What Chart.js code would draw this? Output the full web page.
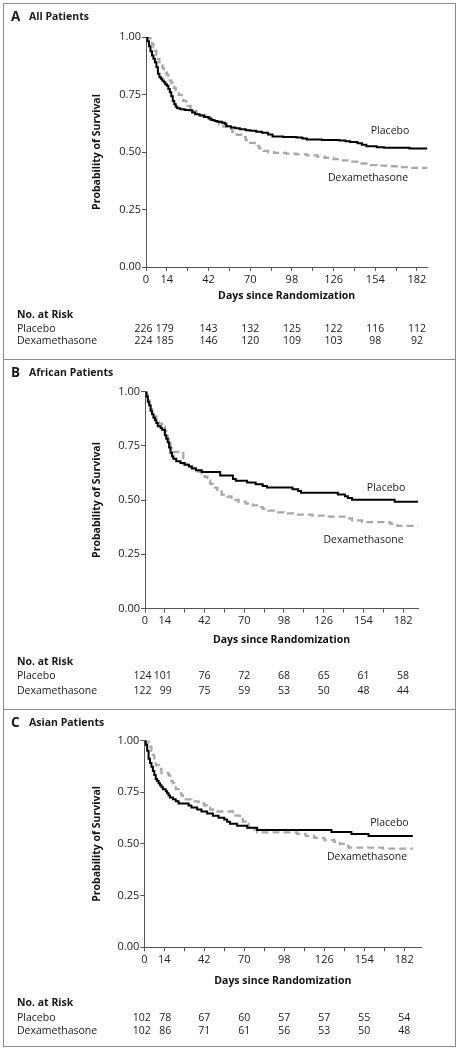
<!DOCTYPE html>
<html><head><meta charset="utf-8">
<script src="https://cdn.jsdelivr.net/npm/chart.js@4.4.1/dist/chart.umd.min.js"></script>
<style>
html,body{margin:0;padding:0;background:#fff;}
#wrap{position:relative;width:461px;height:1050px;overflow:hidden;}
.frame{position:absolute;left:3px;top:3px;width:451px;height:1042px;border:1px solid #8c8c8c;}
.sep{position:absolute;left:3px;width:453px;height:1px;background:#8c8c8c;}
canvas{position:absolute;left:0;}
</style></head>
<body>
<div id="wrap">
  <div class="frame"></div>
  <div class="sep" style="top:359px"></div>
  <div class="sep" style="top:709px"></div>
  <canvas id="cA" width="461" height="359" style="top:0px;width:461px;height:359px"></canvas>
  <canvas id="cB" width="461" height="350" style="top:359px;width:461px;height:350px"></canvas>
  <canvas id="cC" width="461" height="341" style="top:709px;width:461px;height:341px"></canvas>
</div>
<script>
// ---------- DATA ----------
const xLabelDays = [0, 14, 42, 70, 98, 126, 154, 182];
const riskDays = [0, 14, 42, 70, 98, 126, 154, 182];
const seriesNames = ["Placebo", "Dexamethasone"];

// Panel A: All Patients
const aPlaceboDays = [0,1,2,3,4,5,6,7,8,9,10,11,12,13,14,15,16,17,18,19,20,21,23,26,29,31,33,36,39,42,44,46,48,51,53,54,57,60,63,67,70,74,78,82,85,92,101,105,108,118,130,134,137,142,145,148,155,160,177,189];
const aPlaceboSurv = [1,0.982,0.960,0.938,0.920,0.905,0.890,0.868,0.840,0.825,0.818,0.810,0.803,0.795,0.788,0.774,0.760,0.742,0.722,0.708,0.697,0.690,0.686,0.683,0.681,0.672,0.664,0.659,0.652,0.646,0.639,0.635,0.631,0.627,0.623,0.612,0.607,0.603,0.599,0.595,0.592,0.588,0.584,0.576,0.567,0.565,0.563,0.559,0.554,0.552,0.550,0.547,0.543,0.538,0.531,0.525,0.521,0.518,0.515,0.515];
const aDexaDays = [0,2,3,4,5,6,7,8,9,10,11,12,13,14,15,16,17,18,19,20,21,22,24,25,27,28,30,32,34,37,40,43,46,49,52,55,58,61,64,67,70,73,76,79,82,86,94,101,108,115,120,126,131,137,143,148,155,163,170,176,189];
const aDexaSurv = [1,0.995,0.985,0.970,0.955,0.940,0.922,0.905,0.890,0.878,0.866,0.855,0.845,0.836,0.822,0.810,0.800,0.790,0.778,0.768,0.757,0.748,0.735,0.722,0.712,0.700,0.690,0.679,0.668,0.660,0.652,0.640,0.632,0.620,0.610,0.600,0.588,0.575,0.565,0.552,0.540,0.527,0.516,0.505,0.499,0.496,0.493,0.490,0.485,0.480,0.475,0.469,0.464,0.458,0.450,0.443,0.441,0.438,0.434,0.431,0.430];
const aRiskPlacebo = [226, 179, 143, 132, 125, 122, 116, 112];
const aRiskDexa = [224, 185, 146, 120, 109, 103, 98, 92];

// Panel B: African Patients
const bPlaceboDays = [0,1,2,3,4,5,6,7,8,9,11,12,14,15,16,17,18,19,20,22,25,28,31,33,36,40,53,62,64,72,78,83,86,104,108,110,136,141,143,146,176,192.5];
const bPlaceboSurv = [1,0.976,0.952,0.935,0.911,0.895,0.879,0.867,0.855,0.839,0.831,0.823,0.798,0.782,0.766,0.742,0.718,0.702,0.690,0.678,0.670,0.662,0.654,0.645,0.637,0.629,0.613,0.597,0.589,0.581,0.573,0.565,0.557,0.549,0.541,0.533,0.525,0.517,0.509,0.501,0.492,0.492];
const bDexaDays = [0,1,2,3,4,5,6,8,10,12,14,15,16,17,18,19,27,30,33,37,40,42,44,46,48,51,54,58,61,66,71,76,80,83,87,92,98,106,118,128,143,146,153,173,178,192.5];
const bDexaSurv = [1,0.984,0.959,0.943,0.918,0.902,0.885,0.869,0.852,0.836,0.816,0.795,0.779,0.762,0.738,0.721,0.664,0.656,0.648,0.631,0.623,0.607,0.590,0.574,0.557,0.541,0.525,0.516,0.500,0.492,0.484,0.475,0.467,0.459,0.451,0.443,0.438,0.433,0.428,0.423,0.415,0.406,0.398,0.390,0.381,0.381];
const bRiskPlacebo = [124, 101, 76, 72, 68, 65, 61, 58];
const bRiskDexa = [122, 99, 75, 59, 53, 50, 48, 44];

// Panel C: Asian Patients
const cPlaceboDays = [0,1,2,3,4,5,6,7,8,9,10,11,12,13,15,16,17,18,20,22,24,31,33,37,40,44,48,52,56,58,60,65,72,79,131,145,157,188];
const cPlaceboSurv = [1,0.980,0.951,0.912,0.892,0.873,0.853,0.833,0.814,0.804,0.794,0.784,0.775,0.765,0.755,0.745,0.735,0.725,0.716,0.706,0.696,0.686,0.676,0.667,0.657,0.647,0.637,0.627,0.618,0.608,0.598,0.588,0.578,0.568,0.558,0.548,0.538,0.538];
const cDexaDays = [0,3,4,5,6,7,8,10,12,17,18,19,20,21,22,24,26,27,29,33,38,42,44,46,48,62,64,67,69,71,73,76,79,107,113,119,126,133,137,141,143,167,188];
const cDexaSurv = [1,0.990,0.971,0.951,0.931,0.902,0.882,0.863,0.843,0.833,0.814,0.804,0.794,0.775,0.765,0.745,0.735,0.725,0.716,0.706,0.696,0.686,0.676,0.667,0.657,0.647,0.637,0.627,0.608,0.598,0.578,0.569,0.556,0.549,0.539,0.529,0.519,0.510,0.500,0.490,0.482,0.477,0.477];
const cRiskPlacebo = [102, 78, 67, 60, 57, 57, 55, 54];
const cRiskDexa = [102, 86, 71, 61, 56, 53, 50, 48];

// ---------- RENDER ----------
const FONT = '"Open Sans", "Noto Sans", sans-serif';
Chart.defaults.font.family = FONT;

function toXY(days, surv) { return days.map((d, i) => ({ x: d, y: surv[i] })); }

const panels = [
  { id: 'cA', letter: 'A', title: 'All Patients', h: 359, left: 146, right: 427.4, areaTop: 37, areaBottom: 267, xMax: 189,
    titleY: 17, xTitleY: 296, hdrY: 315, r1Y: 329, r2Y: 341,
    pDays: aPlaceboDays, pSurv: aPlaceboSurv, dDays: aDexaDays, dSurv: aDexaSurv, riskP: aRiskPlacebo, riskD: aRiskDexa,
    pLab: [163.9, 0.591], dLab: [149.1, 0.387] },
  { id: 'cB', letter: 'B', title: 'African Patients', h: 350, left: 145, right: 418, areaTop: 32.4, areaBottom: 249.6, xMax: 192.5,
    titleY: 14, xTitleY: 281, hdrY: 303, r1Y: 317, r2Y: 332,
    pDays: bPlaceboDays, pSurv: bPlaceboSurv, dDays: bDexaDays, dSurv: bDexaSurv, riskP: bRiskPlacebo, riskD: bRiskDexa,
    pLab: [170, 0.555], dLab: [154.1, 0.315] },
  { id: 'cC', letter: 'C', title: 'Asian Patients', h: 341, left: 144.3, right: 421.4, areaTop: 31.6, areaBottom: 238.3, xMax: 194,
    titleY: 14, xTitleY: 272, hdrY: 294, r1Y: 309, r2Y: 322,
    pDays: cPlaceboDays, pSurv: cPlaceboSurv, dDays: cDexaDays, dSurv: cDexaSurv, riskP: cRiskPlacebo, riskD: cRiskDexa,
    pLab: [171.6, 0.603], dLab: [155.9, 0.435] }
];

const X_AXIS_H = 40;
const TITLE_FONT_SIZE = 10.5;

panels.forEach(p => {
  const lh = TITLE_FONT_SIZE * 1.2;
  const xTitlePadBottom = p.areaBottom + X_AXIS_H - lh / 2 - p.xTitleY;
  const textPlugin = {
    id: 'texts' + p.id,
    afterDraw(chart) {
      const ctx = chart.ctx;
      const xs = chart.scales.x, ys = chart.scales.y;
      ctx.save();
      ctx.fillStyle = '#1a1a1a';
      ctx.textBaseline = 'middle';
      // panel letter + title
      ctx.textAlign = 'left';
      ctx.font = 'bold 13.5px ' + FONT;
      ctx.fillText(p.letter, 11, p.titleY);
      ctx.font = 'bold 10.5px ' + FONT;
      ctx.fillText(p.title, 29, p.titleY + 0.5);
      // curve labels
      ctx.font = '10.5px ' + FONT;
      ctx.textAlign = 'center';
      ctx.fillText(seriesNames[0], xs.getPixelForValue(p.pLab[0]), ys.getPixelForValue(p.pLab[1]));
      ctx.fillText(seriesNames[1], xs.getPixelForValue(p.dLab[0]), ys.getPixelForValue(p.dLab[1]));
      // risk table
      ctx.textAlign = 'left';
      ctx.font = 'bold 10.5px ' + FONT;
      ctx.fillText('No. at Risk', 17, p.hdrY);
      ctx.font = '10.5px ' + FONT;
      ctx.fillText(seriesNames[0], 17, p.r1Y);
      ctx.fillText(seriesNames[1], 17, p.r2Y);
      [[p.riskP, p.r1Y], [p.riskD, p.r2Y]].forEach(([vals, y]) => {
        vals.forEach((v, i) => {
          const px = xs.getPixelForValue(riskDays[i]);
          if (i === 1) { ctx.textAlign = 'right'; ctx.fillText(String(v), px + 7, y); }
          else if (i === 0) { ctx.textAlign = 'center'; ctx.fillText(String(v), px - 2.5, y); }
          else { ctx.textAlign = 'center'; ctx.fillText(String(v), px, y); }
        });
      });
      ctx.restore();
    }
  };

  new Chart(document.getElementById(p.id), {
    type: 'line',
    data: {
      datasets: [
        { label: seriesNames[0], data: toXY(p.pDays, p.pSurv), borderColor: '#000', borderWidth: 2,
          stepped: 'before', pointRadius: 0, fill: false },
        { label: seriesNames[1], data: toXY(p.dDays, p.dSurv), borderColor: '#a9a9a9', borderWidth: 2.3,
          borderDash: [7, 4], stepped: 'before', pointRadius: 0, fill: false }
      ]
    },
    options: {
      responsive: false,
      animation: false,
      devicePixelRatio: 1,
      layout: { padding: { left: 0, top: p.areaTop, right: 461 - p.right, bottom: p.h - p.areaBottom - X_AXIS_H } },
      plugins: { legend: { display: false }, tooltip: { enabled: false }, title: { display: false } },
      scales: {
        x: {
          type: 'linear', min: 0, max: p.xMax,
          afterFit(s) { s.height = X_AXIS_H; },
          border: { display: true, color: '#555', width: 1 },
          grid: { display: true, drawOnChartArea: false, drawTicks: true, tickLength: 4, color: '#555', lineWidth: 1 },
          ticks: { stepSize: 14, autoSkip: false, includeBounds: false, maxRotation: 0, padding: 2,
            color: '#222', font: { size: 11 },
            callback: v => xLabelDays.includes(v) ? String(v) : '' },
          title: { display: true, text: 'Days since Randomization', color: '#111',
            font: { size: TITLE_FONT_SIZE, weight: 'bold' }, padding: { top: 0, bottom: xTitlePadBottom } }
        },
        y: {
          type: 'linear', min: 0, max: 1,
          afterFit(s) { s.width = p.left; },
          border: { display: true, color: '#555', width: 1 },
          grid: { display: true, drawOnChartArea: false, drawTicks: true, tickLength: 4, color: '#555', lineWidth: 1 },
          ticks: { stepSize: 0.25, padding: 1, color: '#222', font: { size: 11 },
            callback: v => Number(v).toFixed(2) },
          title: { display: true, text: 'Probability of Survival', color: '#111',
            font: { size: TITLE_FONT_SIZE, weight: 'bold' }, padding: { top: 97 - lh / 2, bottom: 0 } }
        }
      }
    },
    plugins: [textPlugin]
  });
});
</script>
</body></html>
